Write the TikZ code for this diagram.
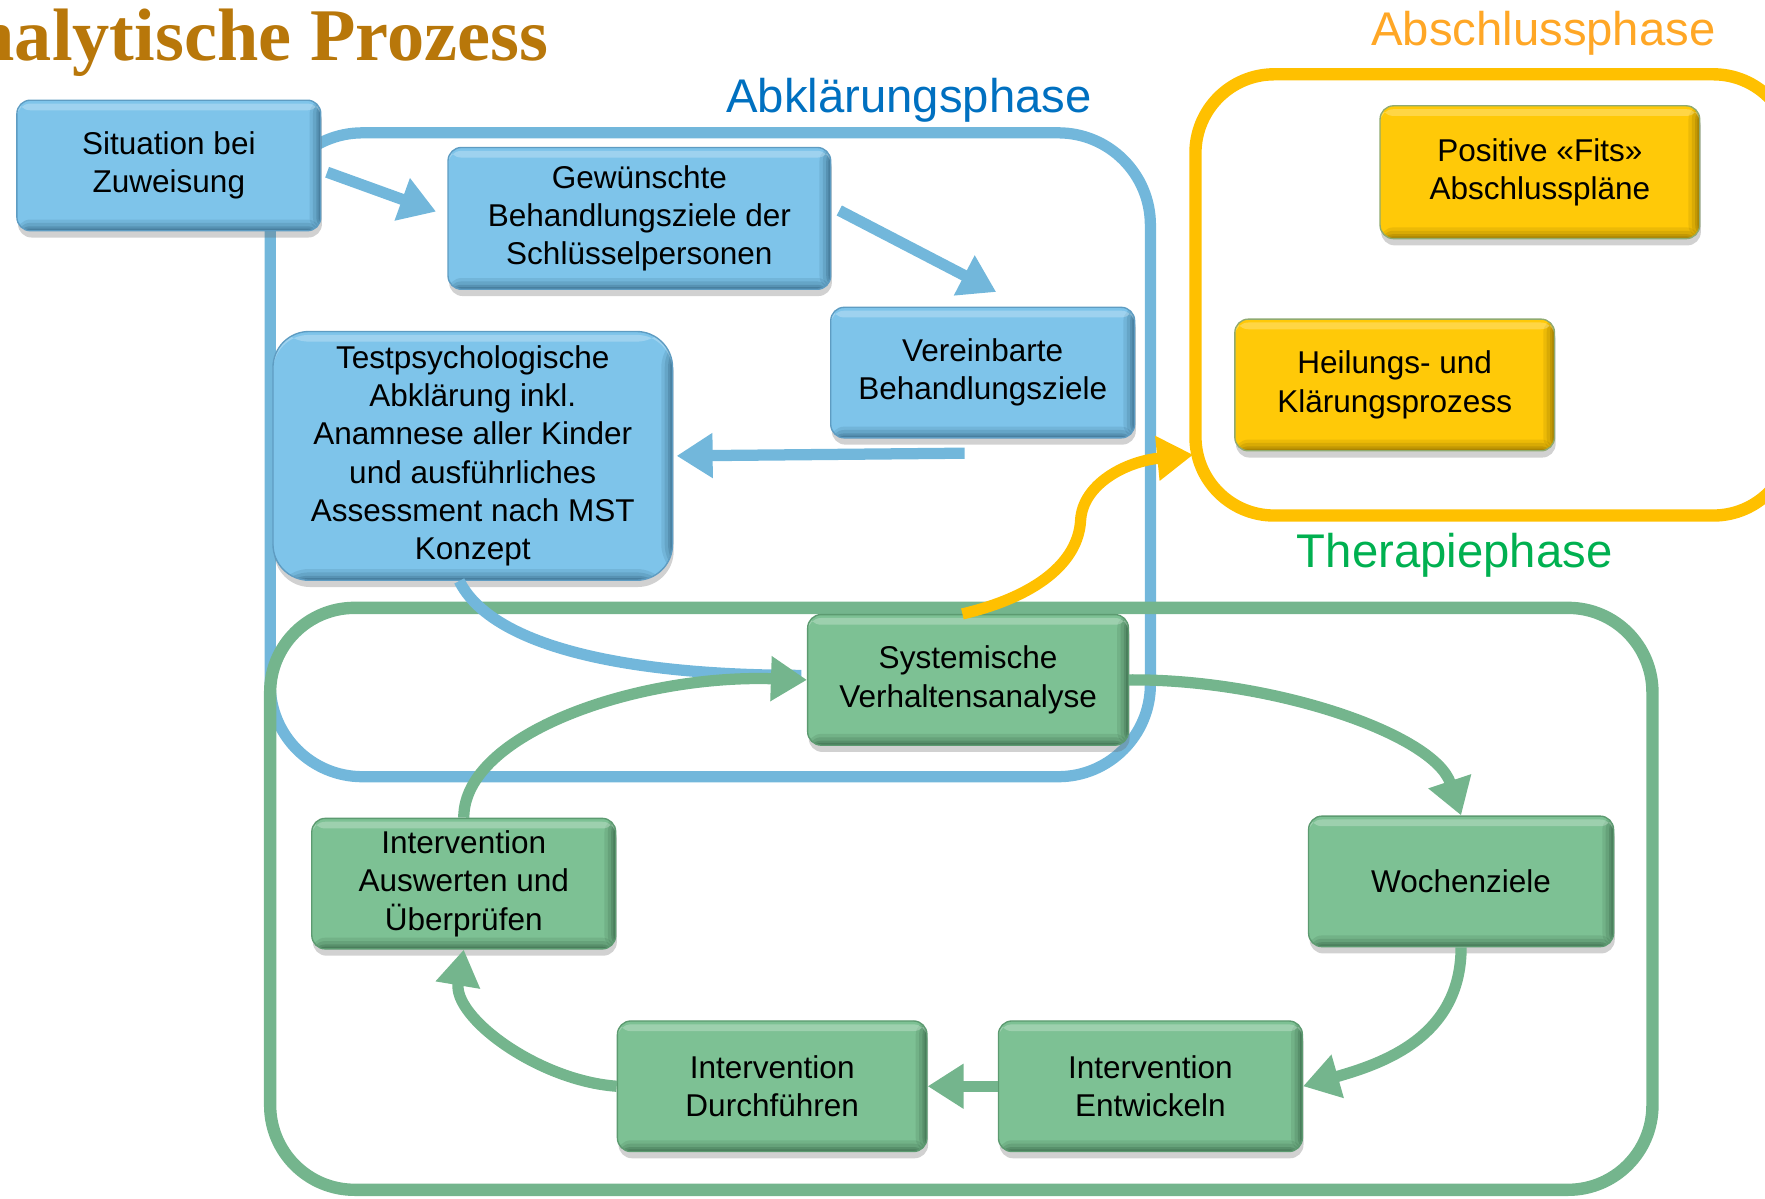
\documentclass[tikz,border=0pt]{standalone}
\usepackage{fontspec}
\setmainfont{Liberation Sans}
\newfontfamily\titlefont{Liberation Serif}
\usetikzlibrary{arrows.meta,shadows,calc}
\definecolor{bline}{HTML}{72B7DB}
\definecolor{bfill}{HTML}{7EC4EA}
\definecolor{bdark}{HTML}{1F4A66}
\definecolor{bedge}{HTML}{5E9CC2}
\definecolor{gline}{HTML}{74B58D}
\definecolor{gfill}{HTML}{7DC194}
\definecolor{gdark}{HTML}{234A30}
\definecolor{gedge}{HTML}{5C9A70}
\definecolor{yline}{HTML}{FFC000}
\definecolor{yfill}{HTML}{FFC908}
\definecolor{ydark}{HTML}{6A5000}
\definecolor{yedge}{HTML}{8FAA70}
\definecolor{titlec}{HTML}{B8770A}
\definecolor{abkl}{HTML}{0070C0}
\definecolor{absc}{HTML}{FFA726}
\definecolor{ther}{HTML}{00B050}
\begin{document}
\begin{tikzpicture}[x=1pt,y=-1pt,
  box/.style n args={3}{rounded corners=12pt, align=center, inner sep=0pt,
    font=\fontsize{28}{34}\selectfont, line width=1.2pt,
    minimum width=270pt, minimum height=116pt,
    fill=#1, draw=#3,
    drop shadow={shadow xshift=1pt,shadow yshift=-6pt,opacity=0.3,fill=black!60},
    path picture={
      \foreach \w/\o in {10/0.12, 7/0.15, 4/0.2, 2/0.25}{
        \fill[#2, opacity=\o]
          ([xshift=-\w pt]path picture bounding box.north east) rectangle (path picture bounding box.south east);
        \fill[#2, opacity=\o]
          ([yshift=\w pt]path picture bounding box.south west) rectangle (path picture bounding box.south east);
      }
      \fill[white, opacity=0.25]
        ([yshift=-3pt]path picture bounding box.north west) rectangle ([yshift=-9pt]path picture bounding box.north east);
    }},
  bbox/.style={box={bfill}{bdark}{bedge}},
  gbox/.style={box={gfill}{gdark}{gedge}},
  ybox/.style={box={yfill}{ydark}{yedge}},
  phase/.style={anchor=base west, inner sep=0pt, font=\fontsize{42}{42}\selectfont},
  barrow/.style={draw=bline, line width=10pt, -{Triangle[length=32pt,width=38pt]}},
  garrow/.style={draw=gline, line width=10pt, -{Triangle[length=32pt,width=38pt]}},
  yarrow/.style={draw=yline, line width=10pt, -{Triangle[length=32pt,width=38pt]}}
]
\useasboundingbox (0,0) rectangle (1568,1065);

% title and phase labels
\node[anchor=base east, inner sep=0pt, text=titlec, font=\titlefont\bfseries\fontsize{66}{66}\selectfont] (title) at (487,54) {nalytische Prozess};
\node[phase, text=abkl] (labA) at (645,100) {Abklärungsphase};
\node[phase, text=absc] (labS) at (1218,40) {Abschlussphase};
\node[phase, text=ther] (labT) at (1152,504) {Therapiephase};

% frames
\draw[bline, line width=10pt, rounded corners=82pt] (240,118) rectangle (1022,690);
\draw[gline, line width=11pt, rounded corners=75pt] (240,540) rectangle (1468,1057);
\draw[yline, line width=11pt, rounded corners=70pt] (1062,66) rectangle (1592,458);

% boxes
\node[bbox] (sit) at (150,147) {Situation bei\\Zuweisung};
\node[bbox, minimum width=340pt, minimum height=126pt] (gew) at (568,194) {Gewünschte\\Behandlungsziele der\\Schlüsselpersonen};
\node[bbox] (ver) at (873,331) {Vereinbarte\\Behandlungsziele};
\node[bbox, minimum width=355pt, minimum height=221pt, rounded corners=32pt] (test) at (420,405) {Testpsychologische\\Abklärung inkl.\\Anamnese aller Kinder\\und ausführliches\\Assessment nach MST\\Konzept};
\node[gbox, minimum width=285pt] (sys) at (860,604) {Systemische\\Verhaltensanalyse};
\node[gbox, minimum width=271pt] (woc) at (1298,783) {Wochenziele};
\node[gbox] (ent) at (1022,965) {Intervention\\Entwickeln};
\node[gbox, minimum width=275pt] (dur) at (686,965) {Intervention\\Durchführen};
\node[gbox] (aus) at (412,785) {Intervention\\Auswerten und\\Überprüfen};
\node[ybox, minimum width=284pt, minimum height=118pt] (pos) at (1368,153) {Positive «Fits»\\Abschlusspläne};
\node[ybox, minimum width=284pt, minimum height=117pt] (hei) at (1239,342) {Heilungs- und\\Klärungsprozess};

% blue connectors
\draw[barrow] ($(sit.east)+(5,6)$) -- ($(gew.west)+(-10,-6)$);
\draw[barrow] ($(gew.east)+(7,-7)$) -- ($(ver.north)+(12,-13)$);
\draw[barrow] ($(ver.south)+(-16,13)$) -- ($(test.east)+(3,0)$);
\draw[bline, line width=10pt] ($(test.south)+(-12,0)$) .. controls +(30,60) and +(-150,0) .. ($(sys.west)+(-5,-4)$);

% green connectors
\draw[garrow] (sys.east) .. controls (1130,603) and (1274,652) .. (woc.north);
\draw[garrow] (woc.south) .. controls +(0,80) and +(70,-20) .. (ent.east);
\draw[garrow] (ent.west) -- (dur.east);
\draw[garrow] (dur.west) .. controls +(-70,-5) and +(-10,60) .. (aus.south);
\draw[garrow] (aus.north) .. controls +(0,-75) and +(-150,-5) .. (sys.west);

% yellow connector
\coordinate (yin) at (1060,404);
\draw[yarrow] ($(sys.north)+(-5,0)$) .. controls (920,530) and (958,500) .. (960,462) .. controls (962,430) and (1000,410) .. (yin);
\end{tikzpicture}
\end{document}
